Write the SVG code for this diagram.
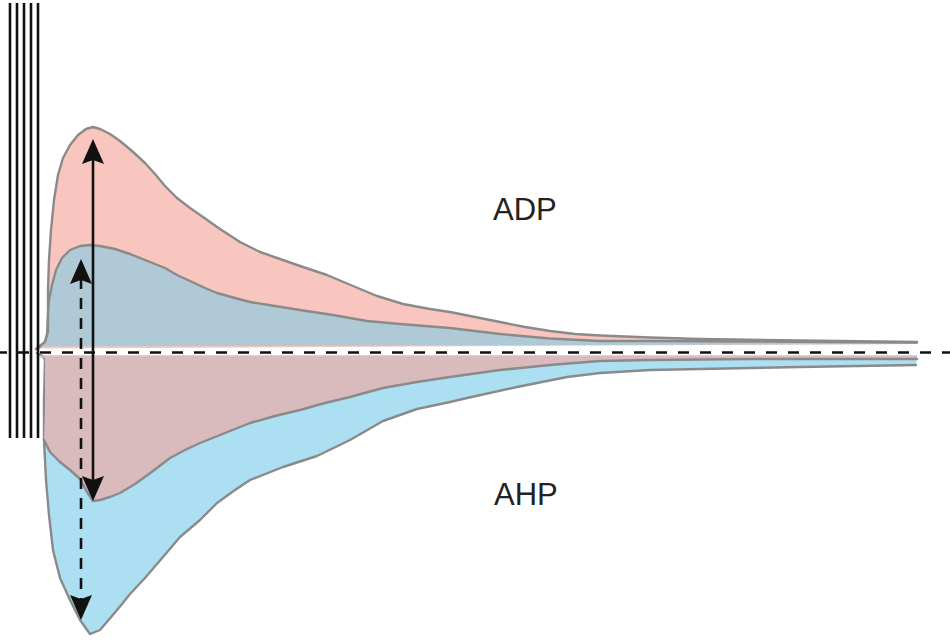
<svg xmlns="http://www.w3.org/2000/svg" width="950" height="641" viewBox="0 0 950 641">
<style>
.edge{fill:none;stroke:#8a8a8a;stroke-width:2.4;stroke-linejoin:round;stroke-linecap:round}
.pink{fill:#f8c6bf}
.bluegray{fill:#b0c9d6}
.lblue{fill:#addff3}
.mauve{fill:#d9babd}
.vl{stroke:#111;stroke-width:2.6}
.lbl{font-family:"Liberation Sans",Arial,sans-serif;font-size:31px;fill:#222}
.ax{stroke:#111;stroke-width:2.6;fill:none}
.head{fill:#111}
</style>
<rect width="950" height="641" fill="#fff"/>
<g id="adp-traces">
<path class="pink" d="M36,349 L44,344 L47,335 L48,315 L48,290 L49,260 L51,230 L54,200 L58,175 L63,158 L70,145 L78,135 L86,129 L93,127 L100,129 L110,134 L120,141 L132,151 L145,163 L155,174 L165,186 L177,198 L190,208 L203,217 L220,229 L240,242 L260,252 L280,259 L300,266 L327,275 L353,286 L377,296 L403,304 L430,309 L450,312 L475,317 L500,322 L525,327 L550,331 L575,334 L600,335.5 L650,337.5 L700,339 L800,340.5 L917,342 L917,344 L36,348.5 Z"/>
<path class="edge" d="M36,349 L44,344 L47,335 L48,315 L48,290 L49,260 L51,230 L54,200 L58,175 L63,158 L70,145 L78,135 L86,129 L93,127 L100,129 L110,134 L120,141 L132,151 L145,163 L155,174 L165,186 L177,198 L190,208 L203,217 L220,229 L240,242 L260,252 L280,259 L300,266 L327,275 L353,286 L377,296 L403,304 L430,309 L450,312 L475,317 L500,322 L525,327 L550,331 L575,334 L600,335.5 L650,337.5 L700,339 L800,340.5 L917,342"/>
<path class="bluegray" d="M37,348 L45,342 L48,332 L48,315 L49,300 L52,285 L56,270 L62,258 L70,250 L80,246 L90,245 L100,246 L115,249 L130,254 L150,262 L165,268 L177,275 L190,281 L205,288 L217,293 L235,298 L250,302 L275,306 L300,310 L333,315 L367,321 L400,324 L450,328 L500,334 L550,338.5 L600,341 L650,341 L750,341.5 L917,342.5 L917,344 L37,346.5 Z"/>
<path class="edge" d="M37,348 L45,342 L48,332 L48,315 L49,300 L52,285 L56,270 L62,258 L70,250 L80,246 L90,245 L100,246 L115,249 L130,254 L150,262 L165,268 L177,275 L190,281 L205,288 L217,293 L235,298 L250,302 L275,306 L300,310 L333,315 L367,321 L400,324 L450,328 L500,334 L550,338.5 L600,341 L650,341 L750,341.5 L917,342.5"/>
</g>
<g id="ahp-traces">
<path class="lblue" d="M37,355.5 L917,355.5 L916,365 L800,367 L700,369 L650,370 L600,373 L567,377 L517,387 L467,398 L450,402 L417,409 L383,421 L350,440 L317,456 L283,467 L250,480 L235,490 L217,503 L200,520 L180,537 L163,557 L145,578 L130,594 L122,604 L112,616 L100,630 L90,634 L80,620 L70,600 L60,578 L53,550 L49,515 L46,480 L44,440 L44,400 L45,360 Z"/>
<path class="edge" d="M37,353 L44,357 L45,360 L44,400 L44,440 L46,480 L49,515 L53,550 L60,578 L70,600 L80,620 L90,634 L100,630 L112,616 L122,604 L130,594 L145,578 L163,557 L180,537 L200,520 L217,503 L235,490 L250,480 L283,467 L317,456 L350,440 L383,421 L417,409 L450,402 L467,398 L517,387 L567,377 L600,373 L650,370 L700,369 L800,367 L916,365"/>
<path class="mauve" d="M37,355.5 L917,355.5 L917,359 L750,359 L650,360 L600,361 L550,365 L500,370 L450,377 L417,382 L383,388 L350,397 L325,403 L300,410 L275,416 L250,423 L225,433 L200,443 L185,450 L170,458 L153,471 L135,484 L120,493 L110,497 L100,500 L93,501 L87,492 L80,479 L70,470 L60,462 L50,452 L44,440 L45,410 L45,380 L45,358 Z"/>
<path class="edge" d="M44,440 L50,452 L60,462 L70,470 L80,479 L87,492 L93,501 L100,500 L110,497 L120,493 L135,484 L153,471 L170,458 L185,450 L200,443 L225,433 L250,423 L275,416 L300,410 L325,403 L350,397 L383,388 L417,382 L450,377 L500,370 L550,365 L600,361 L650,360 L750,359 L917,359"/>
</g>
<g id="stimulus">
<line class="vl" x1="10" y1="3" x2="10" y2="438"/>
<line class="vl" x1="17" y1="3" x2="17" y2="438"/>
<line class="vl" x1="24" y1="3" x2="24" y2="438"/>
<line class="vl" x1="31" y1="3" x2="31" y2="438"/>
<line class="vl" x1="38" y1="3" x2="38" y2="438"/>
</g>
<g id="baseline">
<line class="ax" x1="0" y1="352.5" x2="950" y2="352.5" stroke-dasharray="11 11" stroke-dashoffset="4"/>
</g>
<g id="connectors">
<line class="ax" x1="93" y1="158" x2="93" y2="482"/>
<path class="head" d="M93,139 L104,164 L93,160 L82,164 Z"/>
<path class="head" d="M93,501 L104,476 L93,480 L82,476 Z"/>
<line class="ax" x1="81" y1="278" x2="81" y2="600" stroke-dasharray="11 9"/>
<path class="head" d="M81,259 L92,284 L81,280 L70,284 Z"/>
<path class="head" d="M81,620 L92,595 L81,599 L70,595 Z"/>
</g>
<g id="labels">
<text class="lbl" x="493" y="220">ADP</text>
<text class="lbl" x="494" y="505">AHP</text>
</g>
</svg>
